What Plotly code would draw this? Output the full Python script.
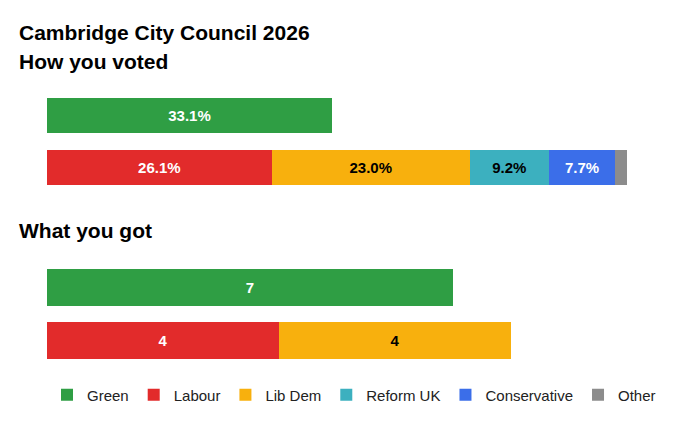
import plotly.graph_objects as go

parties = ["Green", "Labour", "Lib Dem", "Reform UK", "Conservative", "Other"]
colors = ["#2f9e44", "#e22b2b", "#f8b00d", "#3cb0bf", "#3b6ee9", "#8c8c8c"]
vote_share = [33.1, 26.1, 23.0, 9.2, 7.7, 1.4]
vote_row = ["a", "b", "b", "b", "b", "b"]
seats = [7, 4, 4, 0, 0, 0]
seat_row = ["a", "b", "b", "b", "b", "b"]
text_colors = ["white", "white", "black", "black", "white", "white"]

FONT = "Liberation Sans"
fig = go.Figure()
for i, p in enumerate(parties):
    lbl = f"{vote_share[i]:.1f}%" if vote_share[i] >= 5 else ""
    fig.add_trace(go.Bar(
        x=[vote_share[i]], y=[vote_row[i]], orientation="h", name=p,
        marker=dict(color=colors[i], line=dict(width=0)), legendgroup=p,
        text=[lbl], textposition="inside", insidetextanchor="middle",
        textfont=dict(color=text_colors[i], size=15, family=FONT, weight="bold"),
        xaxis="x", yaxis="y", width=0.68, hoverinfo="skip"))
    if seats[i] > 0:
        fig.add_trace(go.Bar(
            x=[seats[i]], y=[seat_row[i]], orientation="h", name=p,
            marker=dict(color=colors[i], line=dict(width=0)), legendgroup=p, showlegend=False,
            text=[str(seats[i])], textposition="inside", insidetextanchor="middle",
            textfont=dict(color=text_colors[i], size=15, family=FONT, weight="bold"),
            xaxis="x2", yaxis="y2", width=0.68, hoverinfo="skip"))

H = 425
OFF = 8
def py(px):
    return 1 - (px - OFF) / H

L = 39
W = 680 - L
fig.update_layout(
    width=680, height=425, barmode="stack",
    margin=dict(l=L, r=0, t=0, b=0),
    plot_bgcolor="white", paper_bgcolor="white",
    font=dict(family=FONT, size=15, color="#222"),
    xaxis=dict(range=[0, W / 8.61], visible=False, fixedrange=True),
    yaxis=dict(domain=[py(193), py(90)], autorange="reversed", visible=False),
    xaxis2=dict(range=[0, W / 58.0], visible=False, anchor="y2"),
    yaxis2=dict(domain=[py(367), py(261)], autorange="reversed", visible=False, anchor="x2"),
    legend=dict(orientation="h", x=0.0, xanchor="left", y=py(395), yanchor="middle",
                font=dict(size=15, color="#222", family=FONT), traceorder="normal",
                itemwidth=30),
    showlegend=True,
)
for txt, y in [("Cambridge City Council 2026", 32), ("How you voted", 61), ("What you got", 231)]:
    fig.add_annotation(text=f"<b>{txt}</b>", xref="paper", yref="paper", x=-(L - 9) / W, y=py(y),
                       xanchor="left", yanchor="middle", showarrow=False,
                       font=dict(size=21, color="black", family=FONT))

fig.write_html("out.html")
